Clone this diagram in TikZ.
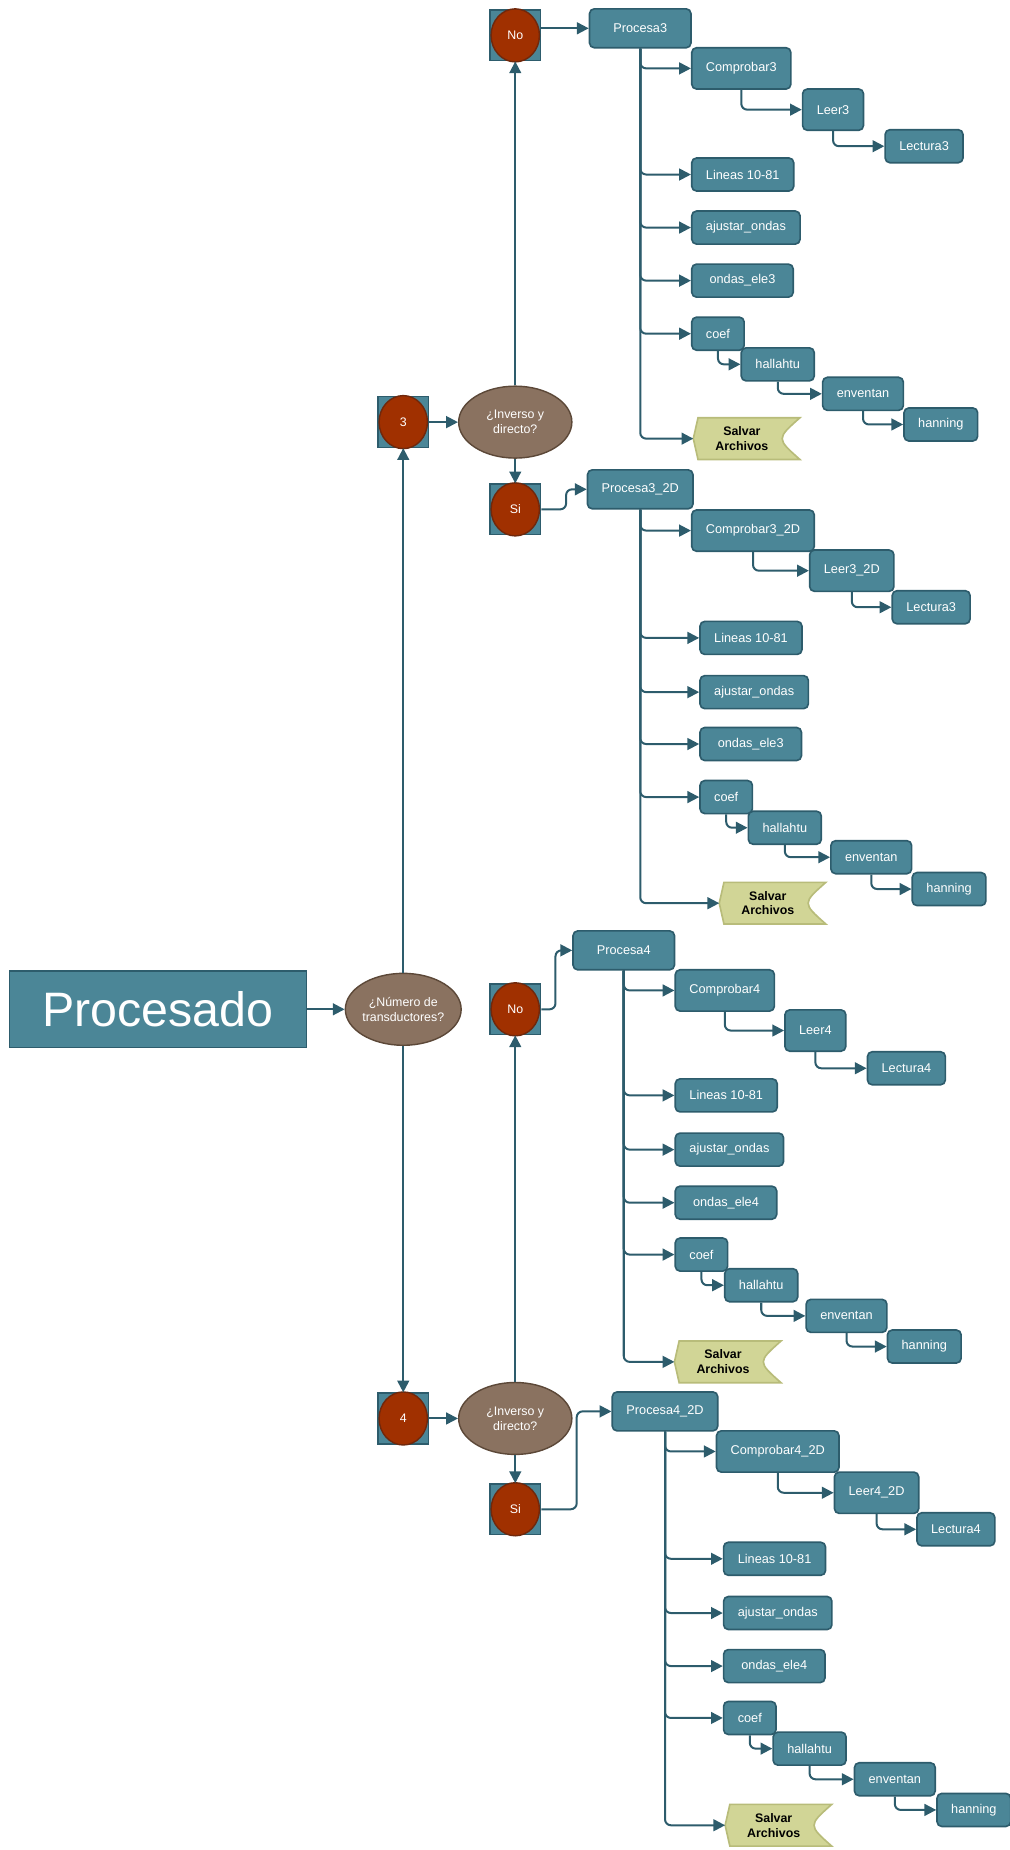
\documentclass[tikz,border=0pt]{standalone}
\usepackage{fontspec}
\setmainfont{Liberation Sans}
\usetikzlibrary{arrows.meta,shapes.geometric,backgrounds}

\definecolor{tealbox}{RGB}{75,134,151}
\definecolor{tealline}{RGB}{45,92,108}
\definecolor{brownfill}{RGB}{138,114,96}
\definecolor{brownline}{RGB}{92,72,56}
\definecolor{redfill}{RGB}{160,48,0}
\definecolor{redline}{RGB}{112,40,12}
\definecolor{salvfill}{RGB}{209,213,150}
\definecolor{salvline}{RGB}{184,188,122}

\tikzset{
  box/.style={draw=tealline, line width=1.4pt, fill=tealbox, rounded corners=4pt,
    text=white, font=\fontsize{10.8}{12}\selectfont, inner xsep=12pt, minimum height=28pt},
  wide/.style={minimum width=86pt},
  tall/.style={minimum height=35pt},
  decision/.style={ellipse, draw=brownline, line width=1.2pt, fill=brownfill, text=white,
    align=center, minimum width=96pt, minimum height=61pt, inner sep=0pt,
    font=\fontsize{10.5}{13}\selectfont},
  sqbox/.style={draw=tealline, line width=1.2pt, fill=tealbox, minimum size=43pt, inner sep=0pt},
  dot/.style={ellipse, draw=redline, line width=1.2pt, fill=redfill, text=white,
    minimum width=41pt, minimum height=45pt, inner sep=0pt, font=\fontsize{10.5}{12}\selectfont},
  salvar/.style={text=black, align=center, minimum width=82pt, minimum height=35pt,
    inner sep=0pt, anchor=west, font=\bfseries\fontsize{10.5}{12.5}\selectfont},
  salvarline/.style={draw=salvline, line width=1.4pt, fill=salvfill},
  conn/.style={draw=tealline, line width=1.7pt, rounded corners=5pt,
    -{Triangle[length=10pt,width=10pt]}},
}

\begin{document}
\begin{tikzpicture}[x=1pt, y=-1pt]
    \useasboundingbox (0,0) rectangle (856,1569);

    % main row
    \node[draw=tealline, line width=1.4pt, fill=tealbox, text=white, minimum width=252pt,
        minimum height=65pt, font=\fontsize{41}{48}\selectfont] (proc) at (134,856) {Procesado};
    \node[decision] (num) at (342,856) {¿Número de\\transductores?};

    \node[sqbox] (s3) at (342,358) {}; \node[dot] (s3d) at (s3) {3};
    \node[decision] (inv3) at (437,358) {¿Inverso y\\directo?};
    \node[sqbox] (no3) at (437,30) {}; \node[dot] (no3d) at (no3) {No};
    \node[sqbox] (si3) at (437,432) {}; \node[dot] (si3d) at (si3) {Si};

    \node[sqbox] (s4) at (342,1203) {}; \node[dot] (s4d) at (s4) {4};
    \node[decision] (inv4) at (437,1203) {¿Inverso y\\directo?};
    \node[sqbox] (no4) at (437,856) {}; \node[dot] (no4d) at (no4) {No};
    \node[sqbox] (si4) at (437,1280) {}; \node[dot] (si4d) at (si4) {Si};

    % 3 transductores, no
    \node[box, wide, minimum height=33pt] (p3) at (543,24) {Procesa3};
    \node[box, tall, anchor=west] (cp3) at (586,58) {Comprobar3};
    \node[box, tall, anchor=west] (le3) at (680,93) {Leer3};
    \node[box, anchor=west] (lt3) at (750,124) {Lectura3};
    \node[box, wide, anchor=west] (li3) at (586,148) {Lineas 10-81};
    \node[box, wide, anchor=west] (aj3) at (586,193) {ajustar\_ondas};
    \node[box, wide, anchor=west] (on3) at (586,238) {ondas\_ele3};
    \node[box, anchor=west] (co3) at (586,283) {coef};
    \node[box, anchor=west] (ha3) at (628,309) {hallahtu};
    \node[box, anchor=west] (en3) at (697,334) {enventan};
    \node[box, anchor=west] (hn3) at (766,360) {hanning};
    \node[salvar] (sv3) at (588,372) {Salvar\\Archivos};

    % 3 transductores, si
    \node[box, wide, minimum height=33pt] (p32) at (543,415) {Procesa3\_2D};
    \node[box, tall, anchor=west] (cp32) at (586,450) {Comprobar3\_2D};
    \node[box, tall, anchor=west] (le32) at (686,484) {Leer3\_2D};
    \node[box, anchor=west] (lt32) at (756,515) {Lectura3};
    \node[box, wide, anchor=west] (li32) at (593,541) {Lineas 10-81};
    \node[box, wide, anchor=west] (aj32) at (593,587) {ajustar\_ondas};
    \node[box, wide, anchor=west] (on32) at (593,631) {ondas\_ele3};
    \node[box, anchor=west] (co32) at (593,676) {coef};
    \node[box, anchor=west] (ha32) at (634,702) {hallahtu};
    \node[box, anchor=west] (en32) at (704,727) {enventan};
    \node[box, anchor=west] (hn32) at (773,754) {hanning};
    \node[salvar] (sv32) at (610,766) {Salvar\\Archivos};

    % 4 transductores, no
    \node[box, wide, minimum height=33pt] (p4) at (529,806) {Procesa4};
    \node[box, tall, anchor=west] (cp4) at (572,840) {Comprobar4};
    \node[box, tall, anchor=west] (le4) at (665,874) {Leer4};
    \node[box, anchor=west] (lt4) at (735,906) {Lectura4};
    \node[box, wide, anchor=west] (li4) at (572,929) {Lineas 10-81};
    \node[box, wide, anchor=west] (aj4) at (572,975) {ajustar\_ondas};
    \node[box, wide, anchor=west] (on4) at (572,1020) {ondas\_ele4};
    \node[box, anchor=west] (co4) at (572,1064) {coef};
    \node[box, anchor=west] (ha4) at (614,1090) {hallahtu};
    \node[box, anchor=west] (en4) at (683,1116) {enventan};
    \node[box, anchor=west] (hn4) at (752,1142) {hanning};
    \node[salvar] (sv4) at (572,1155) {Salvar\\Archivos};

    % 4 transductores, si
    \node[box, wide, minimum height=33pt] (p42) at (564,1197) {Procesa4\_2D};
    \node[box, tall, anchor=west] (cp42) at (607,1231) {Comprobar4\_2D};
    \node[box, tall, anchor=west] (le42) at (707,1266) {Leer4\_2D};
    \node[box, anchor=west] (lt42) at (777,1297) {Lectura4};
    \node[box, wide, anchor=west] (li42) at (613,1322) {Lineas 10-81};
    \node[box, wide, anchor=west] (aj42) at (613,1368) {ajustar\_ondas};
    \node[box, wide, anchor=west] (on42) at (613,1413) {ondas\_ele4};
    \node[box, anchor=west] (co42) at (613,1457) {coef};
    \node[box, anchor=west] (ha42) at (655,1483) {hallahtu};
    \node[box, anchor=west] (en42) at (724,1509) {enventan};
    \node[box, anchor=west] (hn42) at (794,1535) {hanning};
    \node[salvar] (sv42) at (615,1548) {Salvar\\Archivos};

    \begin{scope}[on background layer]
        \draw[salvarline] ([xshift=4pt]sv3.north west) -- ([xshift=8pt]sv3.north east)
            .. controls ([xshift=-12pt]sv3.east) .. ([xshift=8pt]sv3.south east)
            -- ([xshift=4pt]sv3.south west) -- (sv3.west) -- cycle;
        \draw[salvarline] ([xshift=4pt]sv32.north west) -- ([xshift=8pt]sv32.north east)
            .. controls ([xshift=-12pt]sv32.east) .. ([xshift=8pt]sv32.south east)
            -- ([xshift=4pt]sv32.south west) -- (sv32.west) -- cycle;
        \draw[salvarline] ([xshift=4pt]sv4.north west) -- ([xshift=8pt]sv4.north east)
            .. controls ([xshift=-12pt]sv4.east) .. ([xshift=8pt]sv4.south east)
            -- ([xshift=4pt]sv4.south west) -- (sv4.west) -- cycle;
        \draw[salvarline] ([xshift=4pt]sv42.north west) -- ([xshift=8pt]sv42.north east)
            .. controls ([xshift=-12pt]sv42.east) .. ([xshift=8pt]sv42.south east)
            -- ([xshift=4pt]sv42.south west) -- (sv42.west) -- cycle;
    \end{scope}

    % connectors, left part
    \draw[conn] (proc) -- (num);
    \draw[conn] (num) -- (s3);
    \draw[conn] (num) -- (s4);
    \draw[conn] (s3) -- (inv3);
    \draw[conn] (inv3) -- (no3);
    \draw[conn] (inv3) -- (si3);
    \draw[conn] (s4) -- (inv4);
    \draw[conn] (inv4) -- (no4);
    \draw[conn] (inv4) -- (si4);
    \draw[conn] (p3.west -| no3.east) -- (p3.west);
    \draw[conn] (si3.east) -- ++(21,0) |- (p32.west);
    \draw[conn] (no4.east) -- ++(12,0) |- (p4.west);
    \draw[conn] (si4.east) -- ++(30,0) |- (p42.west);

    % Procesa3
    \draw[conn] (p3.south) |- (cp3.west);
    \draw[conn] (cp3.south) |- (le3.west);
    \draw[conn] (le3.south) |- (lt3.west);
    \draw[conn] (p3.south) |- (li3.west);
    \draw[conn] (p3.south) |- (aj3.west);
    \draw[conn] (p3.south) |- (on3.west);
    \draw[conn] (p3.south) |- (co3.west);
    \draw[conn] (co3.south) |- (ha3.west);
    \draw[conn] (ha3.south) |- (en3.west);
    \draw[conn] (en3.south) |- (hn3.west);
    \draw[conn] (p3.south) |- (sv3.west);

    % Procesa3_2D
    \draw[conn] (p32.south) |- (cp32.west);
    \draw[conn] (cp32.south) |- (le32.west);
    \draw[conn] (le32.south) |- (lt32.west);
    \draw[conn] (p32.south) |- (li32.west);
    \draw[conn] (p32.south) |- (aj32.west);
    \draw[conn] (p32.south) |- (on32.west);
    \draw[conn] (p32.south) |- (co32.west);
    \draw[conn] (co32.south) |- (ha32.west);
    \draw[conn] (ha32.south) |- (en32.west);
    \draw[conn] (en32.south) |- (hn32.west);
    \draw[conn] (p32.south) |- (sv32.west);

    % Procesa4
    \draw[conn] (p4.south) |- (cp4.west);
    \draw[conn] (cp4.south) |- (le4.west);
    \draw[conn] (le4.south) |- (lt4.west);
    \draw[conn] (p4.south) |- (li4.west);
    \draw[conn] (p4.south) |- (aj4.west);
    \draw[conn] (p4.south) |- (on4.west);
    \draw[conn] (p4.south) |- (co4.west);
    \draw[conn] (co4.south) |- (ha4.west);
    \draw[conn] (ha4.south) |- (en4.west);
    \draw[conn] (en4.south) |- (hn4.west);
    \draw[conn] (p4.south) |- (sv4.west);

    % Procesa4_2D
    \draw[conn] (p42.south) |- (cp42.west);
    \draw[conn] (cp42.south) |- (le42.west);
    \draw[conn] (le42.south) |- (lt42.west);
    \draw[conn] (p42.south) |- (li42.west);
    \draw[conn] (p42.south) |- (aj42.west);
    \draw[conn] (p42.south) |- (on42.west);
    \draw[conn] (p42.south) |- (co42.west);
    \draw[conn] (co42.south) |- (ha42.west);
    \draw[conn] (ha42.south) |- (en42.west);
    \draw[conn] (en42.south) |- (hn42.west);
    \draw[conn] (p42.south) |- (sv42.west);
\end{tikzpicture}
\end{document}
